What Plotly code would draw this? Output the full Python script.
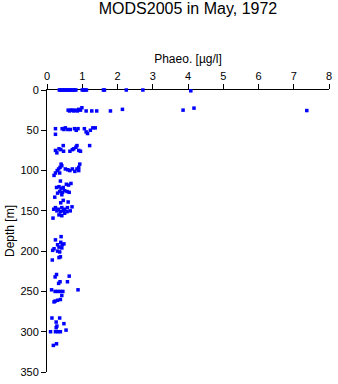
import plotly.graph_objects as go

# Phaeopigment profile samples, grouped by nominal sampling level
phaeo_0 = [0.35, 0.38, 0.42, 0.46, 0.50, 0.54, 0.58, 0.62, 0.66, 0.70, 0.74, 0.78, 0.82,
           1.00, 1.04, 1.08, 1.12, 1.60, 1.63, 2.25, 2.72, 4.08]
depth_0 = [0, 0, 0, 0, 0, 0, 0, 0, 0, 0, 0, 0, 0,
           0, 0, 0, 0, 0, 0, 0, 0, 1]

phaeo_25 = [0.60, 0.64, 0.68, 0.72, 0.76, 0.80, 0.86, 0.90, 0.95, 0.99, 1.11, 1.27, 1.41,
            1.80, 2.14, 3.86, 4.17, 7.37]
depth_25 = [25, 26, 25, 25, 26, 25, 26, 24, 25, 22, 26, 26, 26,
            26, 24, 25, 22.5, 25.5]

phaeo_50 = [0.24, 0.24, 0.43, 0.48, 0.52, 0.59, 0.66, 0.78, 0.83, 0.88, 1.06, 1.11, 1.15,
            1.23, 1.30, 1.37]
depth_50 = [48, 55, 48, 49, 47, 49, 49, 48, 50, 48, 48, 52, 54,
            50, 47, 47]

phaeo_75 = [0.24, 0.28, 0.34, 0.39, 0.46, 0.47, 0.65, 0.72, 0.76, 0.82, 0.85, 0.90, 0.95, 1.21]
depth_75 = [75, 78, 73, 74, 69, 76, 76, 74, 73, 71, 69, 75, 76, 69]

phaeo_100 = [0.20, 0.24, 0.29, 0.33, 0.37, 0.40, 0.42, 0.36, 0.52, 0.59, 0.65, 0.72, 0.79,
             0.85, 0.90, 0.93, 0.90]
depth_100 = [106, 103, 100, 98, 96, 92, 94, 103, 98, 99, 100, 98, 101,
             98, 96, 92, 100]

phaeo_125 = [0.38, 0.34, 0.27, 0.40, 0.46, 0.55, 0.61, 0.68, 0.36, 0.44, 0.50, 0.57, 0.63,
             0.42, 0.30, 0.22]
depth_125 = [113, 120, 121, 122, 121, 117, 118, 116, 126, 127, 125, 126, 127,
             130, 128, 133]

phaeo_150 = [0.46, 0.39, 0.60, 0.24, 0.19, 0.32, 0.42, 0.50, 0.58, 0.71, 0.28, 0.38, 0.47,
             0.57, 0.66, 0.34, 0.42, 0.17, 0.50]
depth_150 = [137, 140, 139, 146, 148, 148, 146, 148, 146, 145, 150, 151, 150,
             151, 150, 155, 156, 159, 153]

phaeo_200 = [0.40, 0.24, 0.39, 0.30, 0.43, 0.48, 0.34, 0.42, 0.20, 0.30, 0.36, 0.15, 0.34,
             0.38, 0.16]
depth_200 = [182, 186, 189, 192, 192, 191, 195, 196, 197, 200, 201, 211, 208,
             207, 199]

phaeo_250 = [0.27, 0.23, 0.63, 0.37, 0.58, 0.33, 0.13, 0.23, 0.30, 0.38, 0.45, 0.88, 0.42,
             0.38, 0.23, 0.30, 0.20]
depth_250 = [229, 232, 231, 238, 238, 240, 248, 250, 250, 250, 250, 248, 255,
             260, 262, 261, 263]

phaeo_300 = [0.14, 0.36, 0.26, 0.48, 0.28, 0.26, 0.54, 0.10, 0.24, 0.31, 0.38, 0.18, 0.27]
depth_300 = [283, 283, 288, 290, 293, 295, 298, 300, 300, 300, 300, 317, 315]

phaeo = (phaeo_0 + phaeo_25 + phaeo_50 + phaeo_75 + phaeo_100 + phaeo_125 + phaeo_150
         + phaeo_200 + phaeo_250 + phaeo_300)
depth = (depth_0 + depth_25 + depth_50 + depth_75 + depth_100 + depth_125 + depth_150
         + depth_200 + depth_250 + depth_300)

x_ticks = [0, 1, 2, 3, 4, 5, 6, 7, 8]
y_ticks = [0, 50, 100, 150, 200, 250, 300, 350]

FONT = "Liberation Sans, Arial, sans-serif"

fig = go.Figure(
    go.Scatter(
        x=phaeo, y=depth, mode="markers",
        marker=dict(symbol="square", size=3.5, color="#0000ff", line=dict(width=0)),
        cliponaxis=False, showlegend=False,
    )
)

axis_common = dict(
    showline=True, linecolor="black", linewidth=1,
    ticks="outside", ticklen=5, tickwidth=1, tickcolor="black",
    showgrid=False, zeroline=False, layer="below traces",
    tickfont=dict(family=FONT, size=11, color="black"),
)

fig.update_layout(
    width=338, height=384,
    margin=dict(l=47, r=6, t=90, b=9),
    paper_bgcolor="white", plot_bgcolor="white",
    font=dict(family=FONT, color="black"),
    title=dict(text="MODS2005 in May, 1972", x=0.5, xref="paper", xanchor="center",
               y=0.978, yref="container", yanchor="middle",
               font=dict(size=16, color="black")),
    xaxis=dict(range=[0, 8], side="top", tickvals=x_ticks, ticktext=[str(v) for v in x_ticks],
               title=dict(text="Phaeo. [µg/l]", font=dict(size=12), standoff=3),
               **axis_common),
    yaxis=dict(range=[350, 0], tickvals=y_ticks, ticktext=[str(v) for v in y_ticks],
               title=dict(text="Depth [m]", font=dict(size=12), standoff=3),
               **axis_common),
)

fig.write_html("out.html")
